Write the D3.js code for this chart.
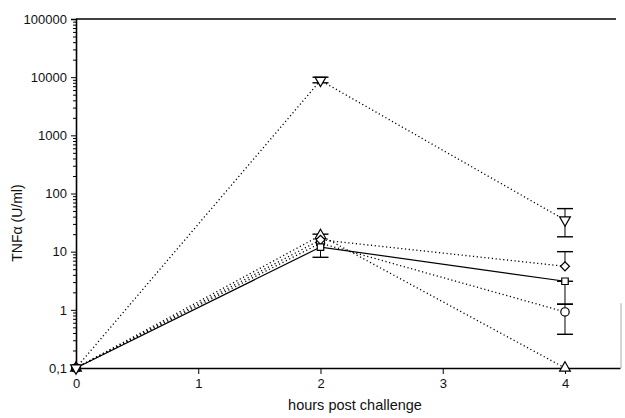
<!DOCTYPE html>
<html>
<head>
<meta charset="utf-8">
<script src="https://cdn.jsdelivr.net/npm/d3@7"></script>
<style>
  body { margin: 0; background: #fff; }
  text { font-family: "Liberation Sans", Arial, sans-serif; fill: #111; }
</style>
</head>
<body>
<svg id="chart"></svg>
<script>
// data
var hours = [0, 2, 4];
var xTicks = [0, 1, 2, 3, 4];
var yTicks = [0.1, 1, 10, 100, 1000, 10000, 100000];
var yTickLabels = ["0,1", "1", "10", "100", "1000", "10000", "100000"];

var downTri = [0.1, 8800, 35];
var downTriHi = [null, 10000, 55];
var downTriLo = [null, 8000, 18];

var diamond = [0.1, 16, 5.6];
var diamondHi = [null, null, 10];
var diamondLo = [null, null, null];

var square = [0.1, 12, 3.1];
var squareHi = [null, 20, 3.1];
var squareLo = [null, 8, 1.25];

var circle = [0.1, 14, 0.92];
var circleHi = [null, null, 1.25];
var circleLo = [null, null, 0.38];

var upTri = [0.1, 19, 0.1];

var series = [
    {name: "upTri", values: upTri, hi: [null, null, null], lo: [null, null, null], dash: "1.2,2.6"},
    {name: "circle", values: circle, hi: circleHi, lo: circleLo, dash: "1.2,2.6"},
    {name: "diamond", values: diamond, hi: diamondHi, lo: diamondLo, dash: "1.2,2.6"},
    {name: "square", values: square, hi: squareHi, lo: squareLo, dash: null},
    {name: "downTri", values: downTri, hi: downTriHi, lo: downTriLo, dash: "1.2,2.6"}
]

var dimensions = {
    width: 625,
    height: 418,
    margin: {top: 19, bottom: 50, left: 76, right: 5}
}

var svg = d3.select("#chart")
    .attr("width", dimensions.width)
    .attr("height", dimensions.height)

var xScale = d3.scaleLinear()
    .domain([0, 4.45])
    .range([dimensions.margin.left, dimensions.width - dimensions.margin.right])

var yScale = d3.scaleLog()
    .domain([0.1, 100000])
    .range([dimensions.height - dimensions.margin.bottom, dimensions.margin.top])

var plotBottom = dimensions.height - dimensions.margin.bottom

// top frame line and faint right edge
svg.append("line")
    .attr("x1", xScale(0)).attr("x2", xScale(4.45) - 4)
    .attr("y1", yScale(100000)).attr("y2", yScale(100000))
    .attr("stroke", "#000").attr("stroke-width", 1.6)
svg.append("line")
    .attr("x1", xScale(4.45) + 1).attr("x2", xScale(4.45) + 1)
    .attr("y1", yScale(1.3)).attr("y2", plotBottom)
    .attr("stroke", "#aaa").attr("stroke-width", 1)

// y axis minor ticks
var minor = yScale.ticks().filter(function(d) { return yTicks.indexOf(d) < 0; })
svg.append("g")
    .attr("transform", `translate(${dimensions.margin.left},0)`)
    .call(d3.axisLeft(yScale).tickValues(minor).tickSize(3).tickFormat(""))
    .call(g => g.select(".domain").remove())

// y axis major ticks
var yAxis = svg.append("g")
    .attr("transform", `translate(${dimensions.margin.left},0)`)
    .call(d3.axisLeft(yScale).tickValues(yTicks).tickSize(5).tickPadding(4)
        .tickFormat(function(d, i) { return yTickLabels[i]; }))
yAxis.select(".domain").attr("stroke-width", 1.6)
yAxis.selectAll("text").style("font-size", "13px")

// x axis
var xAxis = svg.append("g")
    .attr("transform", `translate(0,${plotBottom})`)
    .call(d3.axisBottom(xScale).tickValues(xTicks).tickSize(6).tickPadding(5)
        .tickSizeOuter(0).tickFormat(d3.format("d")))
xAxis.select(".domain").attr("stroke-width", 1.6)
xAxis.selectAll("text").style("font-size", "13px")

// axis titles
svg.append("text")
    .attr("x", 355)
    .attr("y", 410)
    .attr("text-anchor", "middle")
    .style("font-size", "14.5px")
    .text("hours post challenge")

svg.append("text")
    .attr("transform", "translate(22," + yScale(31) + ") rotate(-90)")
    .attr("text-anchor", "middle")
    .style("font-size", "14px")
    .text("TNFα (U/ml)")

// lines
var line = d3.line()
    .x(function(d, i) { return xScale(hours[i]); })
    .y(function(d) { return yScale(d); })

series.forEach(function(s) {
    svg.append("path")
        .datum(s.values)
        .attr("d", line)
        .attr("fill", "none")
        .attr("stroke", "#000")
        .attr("stroke-width", s.dash ? 1.3 : 1.2)
        .attr("stroke-dasharray", s.dash)
})

// error bars
series.forEach(function(s) {
    hours.forEach(function(h, i) {
        var x = xScale(h)
        var y = yScale(s.values[i])
        if (s.hi[i] != null) {
            svg.append("line").attr("x1", x).attr("x2", x)
                .attr("y1", y).attr("y2", yScale(s.hi[i]))
                .attr("stroke", "#000").attr("stroke-width", 1)
            svg.append("line").attr("x1", x - 8).attr("x2", x + 8)
                .attr("y1", yScale(s.hi[i])).attr("y2", yScale(s.hi[i]))
                .attr("stroke", "#000").attr("stroke-width", 1.4)
        }
        if (s.lo[i] != null) {
            svg.append("line").attr("x1", x).attr("x2", x)
                .attr("y1", y).attr("y2", yScale(s.lo[i]))
                .attr("stroke", "#000").attr("stroke-width", 1)
            svg.append("line").attr("x1", x - 8).attr("x2", x + 8)
                .attr("y1", yScale(s.lo[i])).attr("y2", yScale(s.lo[i]))
                .attr("stroke", "#000").attr("stroke-width", 1.4)
        }
    })
})

// markers
var shapes = {
    downTri: {type: d3.symbolTriangle, size: 50, rotate: 180},
    upTri: {type: d3.symbolTriangle, size: 50, rotate: 0},
    diamond: {type: d3.symbolSquare, size: 40, rotate: 45},
    square: {type: d3.symbolSquare, size: 42, rotate: 0},
    circle: {type: d3.symbolCircle, size: 55, rotate: 0}
}

series.forEach(function(s) {
    var sh = shapes[s.name]
    svg.selectAll(".m-" + s.name)
        .data(s.values)
        .enter()
        .append("path")
        .attr("class", "m-" + s.name)
        .attr("d", d3.symbol().type(sh.type).size(sh.size))
        .attr("transform", function(d, i) {
            return "translate(" + xScale(hours[i]) + "," + yScale(d) + ") rotate(" + sh.rotate + ")"
        })
        .attr("fill", "#fff")
        .attr("stroke", "#000")
        .attr("stroke-width", 1.2)
})
</script>
</body>
</html>
